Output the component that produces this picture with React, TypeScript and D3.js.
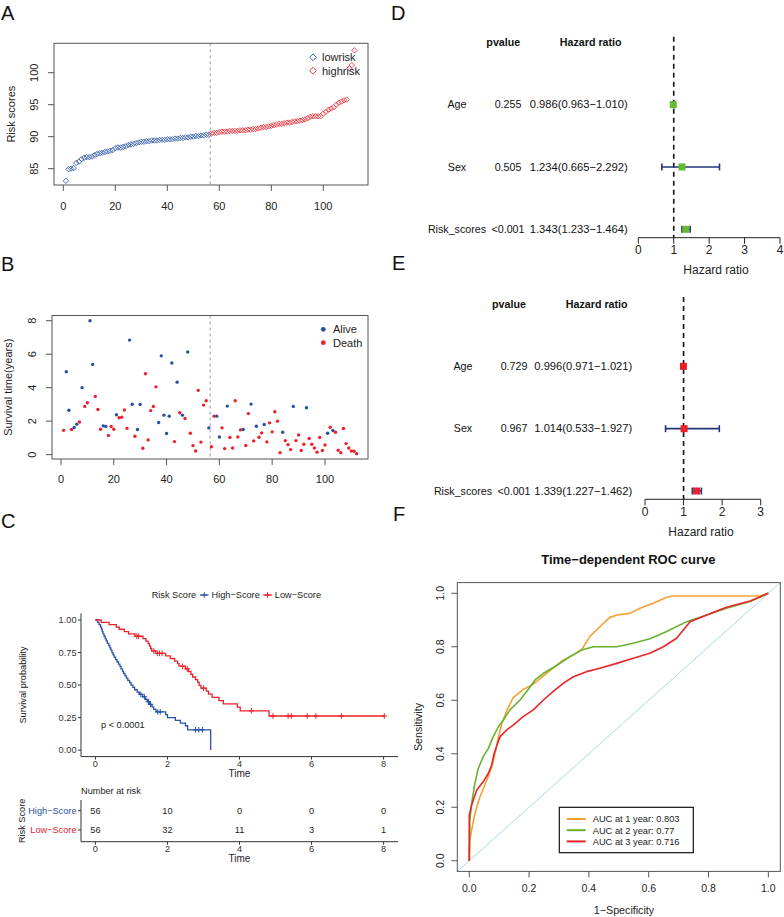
import React from "react";
import * as d3 from "d3";

const FONT = "'Liberation Sans', Arial, Helvetica, sans-serif";
const W = 784;
const H = 917;

// ---------- Panel A: risk scores (sorted) ----------
const riskScores = [
  83.1, 84.9, 85.0, 85.1, 85.9, 86.1, 86.5, 86.7, 86.8, 86.8,
  86.9, 87.1, 87.3, 87.4, 87.5, 87.6, 87.7, 87.8, 87.9, 88.2,
  88.3, 88.3, 88.4, 88.5, 88.7, 88.8, 88.9, 89.0, 89.1, 89.2,
  89.2, 89.3, 89.3, 89.4, 89.4, 89.4, 89.5, 89.5, 89.5, 89.6,
  89.6, 89.6, 89.7, 89.7, 89.8, 89.8, 89.9, 89.9, 90.0, 90.0,
  90.1, 90.1, 90.2, 90.2, 90.3, 90.3, 90.5, 90.6, 90.6, 90.7,
  90.8, 90.8, 90.8, 90.9, 90.9, 90.9, 90.9, 91.0, 91.0, 91.0,
  91.1, 91.1, 91.2, 91.2, 91.3, 91.4, 91.5, 91.5, 91.6, 91.7,
  91.8, 91.9, 92.0, 92.0, 92.1, 92.2, 92.2, 92.3, 92.4, 92.4,
  92.5, 92.6, 92.7, 92.9, 93.1, 93.2, 93.2, 93.2, 93.2, 93.6,
  93.9, 94.2, 94.4, 94.6, 95.0, 95.3, 95.5, 95.7, 95.8, 100.7,
  101.2, 103.5,
];
const riskGroups = ["lowrisk", "highrisk"];
const lowRiskCount = 56;
const riskXTicks = [0, 20, 40, 60, 80, 100];
const riskYTicks = [85, 90, 95, 100];

// ---------- Panel B: survival time & status ----------
const survivalYears = [
  1.45, 4.95, 2.65, 1.5, 1.62, 1.82, 1.95, 4.0, 2.88, 3.1,
  8.0, 5.38, 3.48, 2.7, 1.52, 1.72, 1.68, 1.15, 1.68, 1.52,
  2.38, 2.2, 2.24, 2.67, 1.57, 6.84, 3.01, 1.1, 1.5, 3.0,
  0.38, 4.83, 0.88, 2.63, 2.88, 4.05, 1.92, 5.9, 2.36, 1.26,
  2.3, 5.47, 0.78, 4.33, 2.5, 2.36, 2.16, 6.13, 1.28, 0.54,
  0.22, 3.84, 0.75, 2.96, 3.22, 1.6, 0.47, 2.3, 2.3, 1.05,
  1.6, 0.36, 2.9, 1.02, 0.4, 3.22, 1.06, 1.48, 1.5, 0.55,
  2.45, 3.02, 0.82, 1.7, 1.04, 1.3, 1.8, 0.76, 1.9, 1.36,
  2.56, 2.0, 0.12, 1.34, 0.84, 0.6, 0.3, 2.88, 0.84, 1.18,
  0.25, 0.62, 2.8, 0.96, 0.62, 0.4, 0.15, 1.02, 0.25, 0.58,
  1.28, 1.64, 1.44, 1.34, 0.26, 0.12, 1.56, 0.66, 0.4, 0.22,
  0.2, 0.06,
];
// 0 = Alive, 1 = Death
const survivalStatus = [
  1, 0, 0, 1, 0, 0, 1, 0, 1, 1,
  0, 0, 1, 1, 1, 0, 0, 1, 1, 1,
  0, 1, 1, 1, 1, 0, 0, 1, 0, 0,
  1, 1, 1, 1, 1, 1, 0, 0, 0, 0,
  0, 0, 1, 0, 1, 0, 1, 0, 1, 1,
  1, 1, 1, 1, 1, 0, 1, 1, 0, 0,
  1, 1, 0, 1, 1, 1, 1, 1, 0, 1,
  1, 0, 1, 0, 1, 1, 0, 1, 1, 1,
  1, 1, 1, 0, 1, 1, 1, 0, 1, 1,
  1, 1, 0, 1, 1, 1, 1, 1, 1, 1,
  0, 1, 0, 1, 1, 1, 1, 1, 1, 1,
  1, 1,
];
const statusLabels = ["Alive", "Death"];
const survYTicks = [0, 2, 4, 6, 8];

// ---------- Panel C: Kaplan-Meier ----------
const highStepTimes = [
  0.06, 0.1, 0.14, 0.17, 0.19, 0.21, 0.24, 0.27, 0.3, 0.33,
  0.37, 0.4, 0.43, 0.46, 0.49, 0.52, 0.56, 0.6, 0.64, 0.68,
  0.71, 0.75, 0.78, 0.82, 0.86, 0.9, 0.95, 0.99, 1.04, 1.09,
  1.16, 1.22, 1.31, 1.38, 1.44, 1.5, 1.57, 1.62, 1.68, 1.95,
  2.0, 2.22, 2.36, 2.5, 2.56, 3.2,
];
const highStepSurv = [
  0.982, 0.964, 0.946, 0.929, 0.911, 0.893, 0.875, 0.857, 0.839, 0.821,
  0.804, 0.786, 0.768, 0.75, 0.732, 0.714, 0.696, 0.679, 0.661, 0.643,
  0.625, 0.607, 0.589, 0.571, 0.554, 0.536, 0.518, 0.5, 0.482, 0.464,
  0.446, 0.429, 0.41, 0.391, 0.372, 0.352, 0.333, 0.313, 0.294, 0.272,
  0.25, 0.229, 0.208, 0.187, 0.156, 0.0,
];
const highCensor = [1.26, 1.36, 1.47, 1.53, 1.73, 1.8, 2.78, 2.87, 2.97];
const lowStepTimes = [
  0.16, 0.38, 0.58, 0.66, 0.8, 0.92, 1.1, 1.32, 1.4, 1.46,
  1.5, 1.53, 1.56, 1.68, 1.95, 2.08, 2.2, 2.28, 2.32, 2.5,
  2.58, 2.65, 2.7, 2.78, 2.84, 2.88, 2.93, 3.08, 3.14, 3.24,
  3.43, 3.55, 3.94, 4.02, 4.82,
];
const lowStepSurv = [
  0.982, 0.964, 0.946, 0.929, 0.911, 0.893, 0.875, 0.857, 0.838, 0.82,
  0.801, 0.782, 0.763, 0.744, 0.724, 0.704, 0.684, 0.664, 0.645, 0.624,
  0.604, 0.583, 0.562, 0.541, 0.52, 0.498, 0.476, 0.453, 0.43, 0.406,
  0.381, 0.356, 0.33, 0.302, 0.262,
];
const lowCensor = [1.15, 1.2, 1.62, 1.72, 1.78, 1.85, 2.42, 2.55, 3.0, 4.33, 4.93, 5.35, 5.44, 5.88, 6.12, 6.83, 8.02];
const lowLastTime = 8.02;
const kmGroups = ["High\u2212Score", "Low\u2212Score"];
const kmTimeTicks = [0, 2, 4, 6, 8];
const kmSurvTicks = [0, 0.25, 0.5, 0.75, 1];
const highAtRisk = [56, 10, 0, 0, 0];
const lowAtRisk = [56, 32, 11, 3, 1];
const pValueText = "p < 0.0001";

// ---------- Panel D: univariate Cox ----------
const coxVars = ["Age", "Sex", "Risk_scores"];
const uniP = ["0.255", "0.505", "<0.001"];
const uniHR = [0.986, 1.234, 1.343];
const uniLow = [0.963, 0.665, 1.233];
const uniHigh = [1.01, 2.292, 1.464];
const uniTicks = [0, 1, 2, 3, 4];

// ---------- Panel E: multivariate Cox ----------
const multiP = ["0.729", "0.967", "<0.001"];
const multiHR = [0.996, 1.014, 1.339];
const multiLow = [0.971, 0.533, 1.227];
const multiHigh = [1.021, 1.927, 1.462];
const multiTicks = [0, 1, 2, 3];

// ---------- Panel F: time-dependent ROC ----------
const roc1Fpr = [0, 0.002, 0.008, 0.019, 0.036, 0.058, 0.075, 0.086, 0.097, 0.108, 0.125, 0.147, 0.18, 0.214, 0.247, 0.28, 0.314, 0.348, 0.376, 0.404, 0.437, 0.47, 0.498, 0.537, 0.571, 0.615, 0.66, 0.682, 0.716, 0.883, 0.972, 1.0];
const roc1Tpr = [0, 0.078, 0.115, 0.177, 0.24, 0.3, 0.35, 0.4, 0.46, 0.51, 0.56, 0.61, 0.64, 0.66, 0.69, 0.72, 0.75, 0.77, 0.79, 0.84, 0.875, 0.91, 0.92, 0.925, 0.944, 0.963, 0.985, 0.99, 0.99, 0.99, 0.99, 1.0];
const roc2Fpr = [0, 0.002, 0.008, 0.019, 0.03, 0.047, 0.064, 0.08, 0.097, 0.114, 0.136, 0.169, 0.197, 0.22, 0.247, 0.292, 0.337, 0.376, 0.415, 0.493, 0.548, 0.604, 0.66, 0.727, 0.794, 0.86, 0.939, 1.0];
const roc2Tpr = [0, 0.152, 0.214, 0.29, 0.345, 0.39, 0.42, 0.464, 0.5, 0.526, 0.564, 0.6, 0.64, 0.676, 0.7, 0.73, 0.763, 0.788, 0.8, 0.8, 0.813, 0.83, 0.857, 0.894, 0.919, 0.944, 0.969, 1.0];
const roc3Fpr = [0, 0, 0.008, 0.025, 0.047, 0.064, 0.075, 0.083, 0.092, 0.103, 0.125, 0.147, 0.18, 0.214, 0.247, 0.28, 0.314, 0.348, 0.392, 0.437, 0.493, 0.548, 0.604, 0.649, 0.693, 0.716, 0.738, 0.794, 0.86, 0.939, 1.0];
const roc3Tpr = [0, 0.17, 0.208, 0.264, 0.296, 0.327, 0.358, 0.4, 0.43, 0.464, 0.489, 0.507, 0.539, 0.564, 0.6, 0.632, 0.663, 0.688, 0.707, 0.72, 0.738, 0.757, 0.776, 0.8, 0.832, 0.863, 0.894, 0.919, 0.948, 0.971, 1.0];
const rocLabels = ["AUC at 1 year: 0.803", "AUC at 2 year: 0.77", "AUC at 3 year: 0.716"];
const rocTicks = [0, 0.2, 0.4, 0.6, 0.8, 1.0];

// colours
const C_LOW_A = "#3B62B0";
const C_HIGH_A = "#EE3840";
const C_ALIVE = "#2450A6";
const C_DEATH = "#EE1F2D";
const C_KM_HIGH = "#2A52A6";
const C_KM_LOW = "#EC2029";
const C_GREEN = "#66B934";
const C_RED_SQ = "#E8202A";
const C_CI = "#22357A";
const ROC_COLORS = ["#F5A032", "#67B22F", "#E8262A"];

const T = (props: any) => <text fontFamily={FONT} {...props} />;

function PanelLetter({ x, y, s }: { x: number; y: number; s: string }) {
  return <T x={x} y={y} fontSize={20} fill="#111">{s}</T>;
}

function PanelA() {
  const x = d3.scaleLinear().domain([-3.58, 117.2]).range([54, 368]);
  const y = d3.scaleLinear().domain([82.45, 104.6]).range([185, 43.3]);
  const [x0, x1] = x.range();
  const [yb, yt] = y.range();
  const dia = (s: number) => `M0,${-s}L${s},0L0,${s}L${-s},0Z`;
  return (
    <g>
      <line x1={x(lowRiskCount + 0.5)} x2={x(lowRiskCount + 0.5)} y1={yt} y2={yb} stroke="#9a9a9a" strokeDasharray="3,3" />
      {riskScores.map((v, i) => (
        <path key={i} d={dia(2.7)} transform={`translate(${x(i + 1)},${y(v)})`} fill="none" stroke={i < lowRiskCount ? C_LOW_A : C_HIGH_A} strokeWidth={0.9} />
      ))}
      <rect x={x0} y={yt} width={x1 - x0} height={yb - yt} fill="none" stroke="#555" strokeWidth={1} />
      {riskXTicks.map((t) => (
        <g key={t}>
          <line x1={x(t)} x2={x(t)} y1={yb} y2={yb + 6} stroke="#555" />
          <T x={x(t)} y={yb + 24.5} fontSize={11} textAnchor="middle" fill="#222">{t}</T>
        </g>
      ))}
      {riskYTicks.map((t) => (
        <g key={t}>
          <line x1={x0} x2={x0 - 6} y1={y(t)} y2={y(t)} stroke="#555" />
          <T transform={`translate(37.5,${y(t)}) rotate(-90)`} fontSize={11} textAnchor="middle" fill="#222">{t}</T>
        </g>
      ))}
      <T transform={`translate(14.5,${(yt + yb) / 2}) rotate(-90)`} fontSize={11} textAnchor="middle" fill="#222">Risk scores</T>
      {riskGroups.map((g, i) => (
        <g key={g}>
          <path d={dia(3.4)} transform={`translate(313,${57.3 + i * 13.4})`} fill="none" stroke={i === 0 ? C_LOW_A : C_HIGH_A} strokeWidth={1} />
          <T x={322} y={57.3 + i * 13.4 + 4} fontSize={11} fill="#222">{g}</T>
        </g>
      ))}
    </g>
  );
}

function PanelB() {
  const x = d3.scaleLinear().domain([-3.4, 116.3]).range([52, 368]);
  const y = d3.scaleLinear().domain([-0.26, 8.31]).range([459, 315.5]);
  const [x0, x1] = x.range();
  const [yb, yt] = y.range();
  return (
    <g>
      <line x1={x(lowRiskCount + 0.5)} x2={x(lowRiskCount + 0.5)} y1={yt} y2={yb} stroke="#9a9a9a" strokeDasharray="3,3" />
      {survivalYears.map((v, i) => (
        <circle key={i} cx={x(i + 1)} cy={y(v)} r={1.7} fill={survivalStatus[i] ? C_DEATH : C_ALIVE} />
      ))}
      <rect x={x0} y={yt} width={x1 - x0} height={yb - yt} fill="none" stroke="#555" strokeWidth={1} />
      {riskXTicks.map((t) => (
        <g key={t}>
          <line x1={x(t)} x2={x(t)} y1={yb} y2={yb + 6} stroke="#555" />
          <T x={x(t)} y={yb + 24} fontSize={11} textAnchor="middle" fill="#222">{t}</T>
        </g>
      ))}
      {survYTicks.map((t) => (
        <g key={t}>
          <line x1={x0} x2={x0 - 6} y1={y(t)} y2={y(t)} stroke="#555" />
          <T transform={`translate(35.5,${y(t)}) rotate(-90)`} fontSize={11} textAnchor="middle" fill="#222">{t}</T>
        </g>
      ))}
      <T transform={`translate(12,${(yt + yb) / 2}) rotate(-90)`} fontSize={11} textAnchor="middle" fill="#222">Survival time(years)</T>
      {statusLabels.map((g, i) => (
        <g key={g}>
          <circle cx={323.3} cy={329.3 + i * 13.4} r={2.4} fill={i === 0 ? C_ALIVE : C_DEATH} />
          <T x={333} y={329.3 + i * 13.4 + 4} fontSize={11} fill="#222">{g}</T>
        </g>
      ))}
    </g>
  );
}

function stepAt(times: number[], surv: number[], t: number) {
  const i = d3.bisectRight(times, t);
  return i === 0 ? 1 : surv[i - 1];
}

function PanelC() {
  const x = d3.scaleLinear().domain([-0.4, 8.4]).range([81, 398]);
  const y = d3.scaleLinear().domain([-0.05, 1.05]).range([756.6, 613.5]);
  const [x0, x1] = x.range();
  const [yb, yt] = y.range();
  const line = d3.line<[number, number]>().x((d) => x(d[0])).y((d) => y(d[1])).curve(d3.curveStepAfter);
  const highPts: [number, number][] = [[0, 1], ...highStepTimes.map((t, i) => [t, highStepSurv[i]] as [number, number])];
  const lowPts: [number, number][] = [[0, 1], ...lowStepTimes.map((t, i) => [t, lowStepSurv[i]] as [number, number]), [lowLastTime, lowStepSurv[lowStepSurv.length - 1]]];
  const cross = (cx: number, cy: number, col: string, k: string) => (
    <path key={k} d={`M${cx - 2.8},${cy}H${cx + 2.8}M${cx},${cy - 2.8}V${cy + 2.8}`} stroke={col} strokeWidth={1} />
  );
  const tb = 841.7;
  const rowY = d3.scalePoint<string>().domain(kmGroups).range([810.7, 830]);
  const atRisk = [highAtRisk, lowAtRisk];
  const cols = [C_KM_HIGH, C_KM_LOW];
  return (
    <g>
      <T x={151.7} y={598.3} fontSize={9.2} fill="#222">Risk Score</T>
      {[0, 1].map((i) => {
        const lx = i === 0 ? 200 : 263.3;
        return (
          <g key={i}>
            <line x1={lx} x2={lx + 8.5} y1={595} y2={595} stroke={cols[i]} strokeWidth={1.3} />
            {cross(lx + 4.25, 595, cols[i], "l" + i)}
            <T x={lx + 11.5} y={598.3} fontSize={9.2} fill="#222">{kmGroups[i]}</T>
          </g>
        );
      })}
      <path d={line(highPts) || ""} fill="none" stroke={C_KM_HIGH} strokeWidth={1.3} />
      <path d={line(lowPts) || ""} fill="none" stroke={C_KM_LOW} strokeWidth={1.3} />
      {highCensor.map((t, i) => cross(x(t), y(stepAt(highStepTimes, highStepSurv, t)), C_KM_HIGH, "h" + i))}
      {lowCensor.map((t, i) => cross(x(t), y(stepAt(lowStepTimes, lowStepSurv, t)), C_KM_LOW, "c" + i))}
      <line x1={x0} x2={x0} y1={yt} y2={yb} stroke="#333" strokeWidth={1} />
      <line x1={x0} x2={x1} y1={yb} y2={yb} stroke="#333" strokeWidth={1} />
      {kmSurvTicks.map((t) => (
        <g key={t}>
          <line x1={x0 - 3} x2={x0} y1={y(t)} y2={y(t)} stroke="#333" />
          <T x={x0 - 4.5} y={y(t) + 3.3} fontSize={9.2} textAnchor="end" fill="#333">{t.toFixed(2)}</T>
        </g>
      ))}
      {kmTimeTicks.map((t) => (
        <g key={t}>
          <line x1={x(t)} x2={x(t)} y1={yb} y2={yb + 3} stroke="#333" />
          <T x={x(t)} y={yb + 10} fontSize={9.2} textAnchor="middle" fill="#333">{t}</T>
        </g>
      ))}
      <T x={(x0 + x1) / 2} y={776.5} fontSize={10} textAnchor="middle" fill="#222">Time</T>
      <T transform={`translate(26,${(yt + yb) / 2}) rotate(-90)`} fontSize={9.2} textAnchor="middle" fill="#222">Survival probability</T>
      <T x={101} y={727.6} fontSize={9.2} fill="#222">{pValueText}</T>

      <T x={81} y={794} fontSize={9.2} fill="#222">Number at risk</T>
      <line x1={x0} x2={x0} y1={800} y2={tb} stroke="#333" />
      <line x1={x0} x2={x1} y1={tb} y2={tb} stroke="#333" />
      {kmGroups.map((g, gi) => (
        <g key={g}>
          <line x1={x0 - 3} x2={x0} y1={rowY(g)} y2={rowY(g)} stroke="#333" />
          <T x={x0 - 4.5} y={(rowY(g) as number) + 3.3} fontSize={9.2} textAnchor="end" fill={cols[gi]}>{g}</T>
          {kmTimeTicks.map((t, ti) => (
            <T key={t} x={x(t)} y={(rowY(g) as number) + 3.3} fontSize={9.2} textAnchor="middle" fill="#222">{atRisk[gi][ti]}</T>
          ))}
        </g>
      ))}
      {kmTimeTicks.map((t) => (
        <g key={t}>
          <line x1={x(t)} x2={x(t)} y1={tb} y2={tb + 3} stroke="#333" />
          <T x={x(t)} y={tb + 10} fontSize={9.2} textAnchor="middle" fill="#333">{t}</T>
        </g>
      ))}
      <T x={(x0 + x1) / 2} y={862} fontSize={10} textAnchor="middle" fill="#222">Time</T>
      <T transform={`translate(25,${(800 + tb) / 2}) rotate(-90)`} fontSize={9.2} textAnchor="middle" fill="#222">Risk Score</T>
    </g>
  );
}

function Forest(props: {
  xDomain: [number, number]; xRange: [number, number]; rowRange: [number, number];
  ticks: number[]; pvals: string[]; hr: number[]; lo: number[]; hi: number[];
  color: string; axisY: number; dashTop: number; nameX: number; pX: number; hrX: number;
  pHeadX: number; hrHeadX: number; labelX: number; labelY: number;
}) {
  const x = d3.scaleLinear().domain(props.xDomain).range(props.xRange);
  const n = coxVars.length;
  const ry = d3.scaleLinear().domain([1, n + 1]).range(props.rowRange);
  const f = (v: number) => v.toFixed(3);
  const fs = 10.7;
  return (
    <g>
      <T x={props.pHeadX} y={ry(n + 1) + 3.8} fontSize={fs} fontWeight="bold" textAnchor="middle" fill="#111">pvalue</T>
      <T x={props.hrHeadX} y={ry(n + 1) + 3.8} fontSize={fs} fontWeight="bold" textAnchor="middle" fill="#111">Hazard ratio</T>
      {coxVars.map((v, i) => {
        const yy = ry(n - i);
        return (
          <g key={v}>
            <T x={props.nameX} y={yy + 3.8} fontSize={fs} textAnchor="middle" fill="#111">{v}</T>
            <T x={props.pX} y={yy + 3.8} fontSize={fs} textAnchor="middle" fill="#111">{props.pvals[i]}</T>
            <T x={props.hrX} y={yy + 3.8} fontSize={11.2} textAnchor="end" fill="#111">{`${f(props.hr[i])}(${f(props.lo[i])}\u2212${f(props.hi[i])})`}</T>
          </g>
        );
      })}
      <line x1={x(1)} x2={x(1)} y1={props.dashTop} y2={props.axisY} stroke="#111" strokeWidth={1.6} strokeDasharray="5,4" />
      {coxVars.map((v, i) => {
        const yy = ry(n - i);
        return (
          <g key={v}>
            <line x1={x(props.lo[i])} x2={x(props.hi[i])} y1={yy} y2={yy} stroke={C_CI} strokeWidth={1.6} />
            <line x1={x(props.lo[i])} x2={x(props.lo[i])} y1={yy - 3.5} y2={yy + 3.5} stroke={C_CI} strokeWidth={1.6} />
            <line x1={x(props.hi[i])} x2={x(props.hi[i])} y1={yy - 3.5} y2={yy + 3.5} stroke={C_CI} strokeWidth={1.6} />
            <rect x={x(props.hr[i]) - 3.5} y={yy - 3.5} width={7} height={7} fill={props.color} />
          </g>
        );
      })}
      <line x1={x(props.xDomain[0])} x2={x(props.xDomain[1])} y1={props.axisY} y2={props.axisY} stroke="#222" />
      {props.ticks.map((t) => (
        <g key={t}>
          <line x1={x(t)} x2={x(t)} y1={props.axisY} y2={props.axisY + 6} stroke="#222" />
          <T x={x(t)} y={props.axisY + 16.5} fontSize={12} textAnchor="middle" fill="#222">{t}</T>
        </g>
      ))}
      <T x={props.labelX} y={props.labelY} fontSize={12} textAnchor="middle" fill="#222">Hazard ratio</T>
    </g>
  );
}

function PanelF() {
  const x = d3.scaleLinear().domain([-0.04, 1.04]).range([457.3, 780.3]);
  const y = d3.scaleLinear().domain([-0.04, 1.04]).range([871.4, 582.6]);
  const [x0, x1] = x.range();
  const [yb, yt] = y.range();
  const line = d3.line<[number, number]>().x((d) => x(d[0])).y((d) => y(d[1]));
  const curves = [
    roc1Fpr.map((v, i) => [v, roc1Tpr[i]] as [number, number]),
    roc2Fpr.map((v, i) => [v, roc2Tpr[i]] as [number, number]),
    roc3Fpr.map((v, i) => [v, roc3Tpr[i]] as [number, number]),
  ];
  return (
    <g>
      <T x={628.3} y={564} fontSize={13} fontWeight="bold" textAnchor="middle" fill="#111">Time{"\u2212"}dependent ROC curve</T>
      <line x1={x(-0.04)} y1={y(-0.04)} x2={x(1.04)} y2={y(1.04)} stroke="#ADD8E6" strokeWidth={1} />
      {curves.map((c, i) => (
        <path key={i} d={line(c) || ""} fill="none" stroke={ROC_COLORS[i]} strokeWidth={1.6} strokeLinejoin="round" />
      ))}
      <rect x={x0} y={yt} width={x1 - x0} height={yb - yt} fill="none" stroke="#555" strokeWidth={1} />
      {rocTicks.map((t) => (
        <g key={t}>
          <line x1={x(t)} x2={x(t)} y1={yb} y2={yb + 6} stroke="#555" />
          <T x={x(t)} y={892} fontSize={10.5} textAnchor="middle" fill="#222">{t.toFixed(1)}</T>
          <line x1={x0} x2={x0 - 6} y1={y(t)} y2={y(t)} stroke="#555" />
          <T transform={`translate(443.7,${y(t)}) rotate(-90)`} fontSize={10.5} textAnchor="middle" fill="#222">{t.toFixed(1)}</T>
        </g>
      ))}
      <T x={624} y={913.5} fontSize={10.7} textAnchor="middle" fill="#222">1{"\u2212"}Specificity</T>
      <T transform={`translate(422,${(yt + yb) / 2}) rotate(-90)`} fontSize={10.7} textAnchor="middle" fill="#222">Sensitivity</T>
      <rect x={559.3} y={807.3} width={134} height={45.4} fill="#fff" stroke="#111" strokeWidth={1.2} />
      {rocLabels.map((l, i) => (
        <g key={l}>
          <line x1={566.7} x2={585.7} y1={819 + i * 11.2} y2={819 + i * 11.2} stroke={ROC_COLORS[i]} strokeWidth={2} />
          <T x={592.7} y={819 + i * 11.2 + 3.3} fontSize={9.3} fill="#222">{l}</T>
        </g>
      ))}
    </g>
  );
}

export default function App() {
  return (
    <div style={{ position: "absolute", left: 0, top: 0, background: "#fff" }}>
      <svg width={W} height={H} viewBox={`0 0 ${W} ${H}`} style={{ display: "block", background: "#fff" }}>
        <rect x={0} y={0} width={W} height={H} fill="#fff" />
        <PanelLetter x={1} y={19.5} s="A" />
        <PanelLetter x={1} y={271} s="B" />
        <PanelLetter x={1} y={528} s="C" />
        <PanelLetter x={391} y={19.5} s="D" />
        <PanelLetter x={392} y={270} s="E" />
        <PanelLetter x={393} y={521} s="F" />
        <PanelA />
        <PanelB />
        <PanelC />
        <Forest xDomain={[0, 4]} xRange={[638.3, 780]} rowRange={[229.3, 42.3]} ticks={uniTicks}
          pvals={uniP} hr={uniHR} lo={uniLow} hi={uniHigh} color={C_GREEN} axisY={237.7} dashTop={36.7}
          nameX={457} pX={508} hrX={627.7} pHeadX={503.3} hrHeadX={590.7} labelX={716} labelY={273.6} />
        <Forest xDomain={[0, 3]} xRange={[645, 760.7]} rowRange={[491, 304]} ticks={multiTicks}
          pvals={multiP} hr={multiHR} lo={multiLow} hi={multiHigh} color={C_RED_SQ} axisY={499.3} dashTop={297}
          nameX={463} pX={514} hrX={632.3} pHeadX={509} hrHeadX={596.7} labelX={701} labelY={536} />
        <PanelF />
      </svg>
    </div>
  );
}
